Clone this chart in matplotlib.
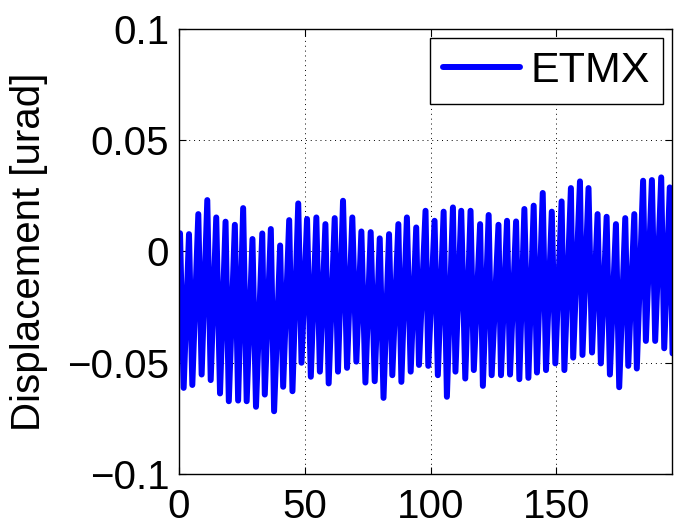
import matplotlib
matplotlib.use("Agg")
import matplotlib.pyplot as plt

# peak / trough samples (time, urad)
t = [0.4, 1.85, 3.97, 5.29, 7.67, 9.0, 11.24, 12.6, 14.8, 16.3,
     18.5, 19.8, 22.2, 23.5, 25.5, 26.9, 29.2, 30.6, 33.1, 34.1,
     36.5, 37.8, 40.2, 41.4, 43.8, 45.1, 47.4, 48.7, 50.9, 52.4,
     54.6, 56.0, 58.2, 59.5, 61.9, 63.2, 65.2, 66.8, 68.9, 70.5,
     72.5, 74.1, 76.2, 77.8, 79.8, 81.3, 83.5, 84.8, 87.2, 88.4,
     90.6, 92.1, 94.3, 95.4, 98.0, 99.1, 101.6, 102.9, 105.2, 106.5,
     108.9, 109.9, 112.2, 113.8, 115.9, 117.2, 119.7, 120.8, 123.1, 124.3,
     127.0, 128.0, 130.4, 131.6, 134.0, 135.3, 137.3, 138.9, 141.0, 142.3,
     144.6, 145.9, 148.2, 149.6, 152.1, 153.2, 155.8, 156.7, 159.4, 160.4,
     162.8, 164.2, 166.4, 167.7, 170.0, 171.3, 173.7, 175.0, 177.4, 178.6,
     181.0, 182.0, 184.5, 185.6, 188.0, 189.3, 191.7, 192.9, 195.1, 196.2]
etmx = [0.0082, -0.0613, 0.0078, -0.0600, 0.0168, -0.0553, 0.0231, -0.0578, 0.0153, -0.0638,
        0.0134, -0.0673, 0.0120, -0.0670, 0.0195, -0.0673, 0.0056, -0.0698, 0.0081, -0.0643,
        0.0101, -0.0718, 0.0027, -0.0608, 0.0141, -0.0628, 0.0216, -0.0500, 0.0146, -0.0563,
        0.0153, -0.0540, 0.0123, -0.0593, 0.0150, -0.0540, 0.0228, -0.0523, 0.0153, -0.0495,
        0.0090, -0.0589, 0.0087, -0.0583, 0.0059, -0.0658, 0.0078, -0.0556, 0.0123, -0.0586,
        0.0153, -0.0540, 0.0108, -0.0510, 0.0183, -0.0514, 0.0138, -0.0556, 0.0179, -0.0653,
        0.0198, -0.0540, 0.0183, -0.0571, 0.0183, -0.0533, 0.0123, -0.0604, 0.0164, -0.0556,
        0.0120, -0.0556, 0.0138, -0.0553, 0.0135, -0.0574, 0.0191, -0.0568, 0.0206, -0.0544,
        0.0263, -0.0533, 0.0179, -0.0503, 0.0225, -0.0533, 0.0285, -0.0477, 0.0315, -0.0465,
        0.0285, -0.0454, 0.0168, -0.0503, 0.0156, -0.0553, 0.0123, -0.0610, 0.0150, -0.0514,
        0.0168, -0.0526, 0.0318, -0.0402, 0.0321, -0.0402, 0.0333, -0.0435, 0.0288, -0.0458]

x_ticks = [0, 50, 100, 150]
y_ticks = [-0.1, -0.05, 0, 0.05, 0.1]
y_tick_labels = ["\u22120.1", "\u22120.05", "0", "0.05", "0.1"]

plt.rcParams["font.family"] = ["Liberation Sans", "DejaVu Sans"]
fs = 29

fig = plt.figure(figsize=(6.75, 5.29), dpi=100)
ax = fig.add_axes([0.2652, 0.104, 0.7304, 0.8412])

ax.plot(t, etmx, color="#0000ff", linewidth=4.3, solid_joinstyle="round",
        solid_capstyle="round", label="ETMX")

ax.set_xlim(0, 196)
ax.set_ylim(-0.1, 0.1)
ax.set_xticks(x_ticks)
ax.set_yticks(y_ticks)
ax.set_yticklabels(y_tick_labels)
ax.tick_params(direction="in", length=5, width=0.8, labelsize=fs,
               top=True, right=True, pad=7)
ax.tick_params(axis="x", pad=10)
ax.grid(True, linestyle=(0, (1, 4)), color="black", linewidth=0.7)
for s in ax.spines.values():
    s.set_linewidth(1.0)

ax.set_ylabel("Displacement [urad]", fontsize=fs, labelpad=14)

leg = ax.legend(loc="upper right", fontsize=31, fancybox=False, framealpha=1,
                edgecolor="black", handlelength=1.8, handletextpad=0.23,
                borderpad=0.3, borderaxespad=0.22)
leg.get_frame().set_linewidth(1.0)

fig.savefig("out.png", dpi=100)
